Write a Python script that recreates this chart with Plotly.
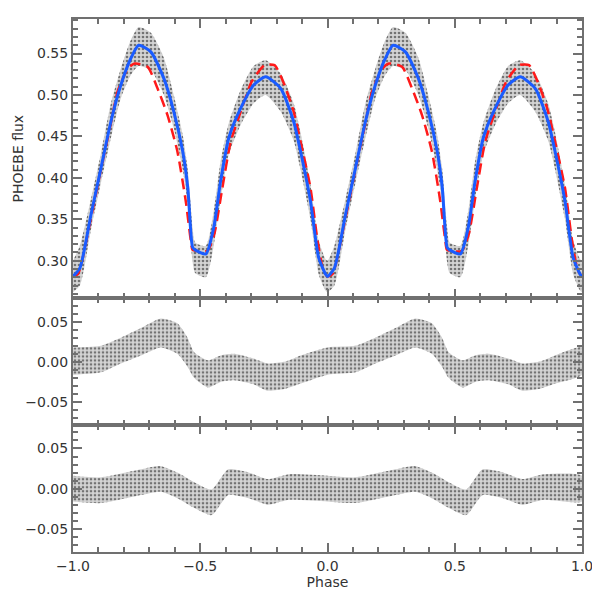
import plotly.graph_objects as go
from plotly.subplots import make_subplots

# one phase cycle (-1 .. 0), the plot shows it twice (-1..0 and 0..1)
phase = [-1.0, -0.973, -0.929, -0.890, -0.851, -0.812, -0.773, -0.742, -0.694, -0.643,
         -0.604, -0.569, -0.549, -0.530, -0.520, -0.478, -0.447, -0.420, -0.388, -0.341,
         -0.290, -0.243, -0.184, -0.133, -0.106, -0.067, -0.035, -0.008, 0.0]
blue_model = [0.281, 0.291, 0.356, 0.412, 0.468, 0.512, 0.544, 0.560, 0.552, 0.520,
              0.480, 0.432, 0.388, 0.316, 0.313, 0.308, 0.340, 0.396, 0.448, 0.484,
              0.512, 0.522, 0.508, 0.468, 0.432, 0.372, 0.304, 0.284, 0.281]
flux_hi = [0.300, 0.318, 0.375, 0.430, 0.490, 0.532, 0.566, 0.582, 0.575, 0.545,
           0.500, 0.452, 0.410, 0.340, 0.322, 0.318, 0.360, 0.420, 0.466, 0.506,
           0.535, 0.542, 0.526, 0.490, 0.455, 0.392, 0.325, 0.302, 0.300]
flux_lo = [0.262, 0.270, 0.338, 0.394, 0.448, 0.496, 0.524, 0.535, 0.530, 0.500,
           0.460, 0.410, 0.368, 0.298, 0.285, 0.280, 0.318, 0.374, 0.428, 0.464,
           0.490, 0.500, 0.480, 0.445, 0.410, 0.350, 0.284, 0.264, 0.262]

red_phase = [-1.0, -0.980, -0.929, -0.890, -0.851, -0.825, -0.784, -0.758, -0.707, -0.668,
             -0.629, -0.590, -0.557, -0.537, -0.530, -0.472, -0.445, -0.413, -0.380, -0.341,
             -0.298, -0.247, -0.208, -0.169, -0.133, -0.106, -0.067, -0.039, -0.016, 0.0]
red_model = [0.281, 0.284, 0.352, 0.410, 0.466, 0.504, 0.532, 0.538, 0.534, 0.508,
             0.476, 0.432, 0.372, 0.324, 0.313, 0.312, 0.332, 0.388, 0.444, 0.480,
             0.516, 0.536, 0.536, 0.512, 0.480, 0.444, 0.388, 0.324, 0.288, 0.281]

res_phase = [-1.0, -0.89, -0.812, -0.733, -0.655, -0.59, -0.55, -0.524, -0.47, -0.42,
             -0.367, -0.29, -0.235, -0.17, -0.105, 0.0]
res1_hi = [0.018, 0.020, 0.030, 0.042, 0.054, 0.048, 0.030, 0.012, 0.002, 0.008,
           0.010, 0.004, -0.002, 0.000, 0.008, 0.018]
res1_lo = [-0.016, -0.013, -0.002, 0.008, 0.018, 0.010, -0.006, -0.020, -0.032, -0.025,
           -0.023, -0.028, -0.036, -0.034, -0.027, -0.016]

res2_phase = [-1.0, -0.89, -0.733, -0.655, -0.59, -0.524, -0.455, -0.39, -0.31, -0.235,
              -0.15, 0.0]
res2_hi = [0.016, 0.014, 0.024, 0.028, 0.020, 0.008, -0.001, 0.024, 0.020, 0.012,
           0.018, 0.016]
res2_lo = [-0.016, -0.018, -0.008, -0.004, -0.012, -0.024, -0.033, -0.008, -0.012, -0.020,
           -0.014, -0.016]


def two_cycles(p, v):
    return p + [x + 1 for x in p[1:]], v + v[1:]


def band(p, hi, lo):
    px, ph = two_cycles(p, hi)
    _, pl = two_cycles(p, lo)
    return px + px[::-1], ph + pl[::-1]


fig = make_subplots(rows=3, cols=1, shared_xaxes=True, vertical_spacing=0,
                    row_heights=[281, 127.5, 127.5])

dots = dict(shape=".", fgcolor="#111", bgcolor="#d4d4d4", size=4, solidity=0.35)

bx, by = band(phase, flux_hi, flux_lo)
fig.add_trace(go.Scatter(x=bx, y=by, fill="toself", fillpattern=dots, mode="lines",
                         line=dict(width=0, shape="spline", smoothing=0.6),
                         hoverinfo="skip"), row=1, col=1)
rx, ry = two_cycles(red_phase, red_model)
fig.add_trace(go.Scatter(x=rx, y=ry, mode="lines",
                         line=dict(color="#ff1a1a", width=2.5, dash="11px,6px",
                                   shape="spline", smoothing=0.6)), row=1, col=1)
gx, gy = two_cycles(phase, blue_model)
fig.add_trace(go.Scatter(x=gx, y=gy, mode="lines",
                         line=dict(color="#1a5cff", width=3, shape="spline",
                                   smoothing=0.6)), row=1, col=1)

bx, by = band(res_phase, res1_hi, res1_lo)
fig.add_trace(go.Scatter(x=bx, y=by, fill="toself", fillpattern=dots, mode="lines",
                         line=dict(width=0, shape="spline", smoothing=0.6),
                         hoverinfo="skip"), row=2, col=1)
bx, by = band(res2_phase, res2_hi, res2_lo)
fig.add_trace(go.Scatter(x=bx, y=by, fill="toself", fillpattern=dots, mode="lines",
                         line=dict(width=0, shape="spline", smoothing=0.6),
                         hoverinfo="skip"), row=3, col=1)

font = dict(family="DejaVu Sans", size=14, color="#333")
axis_style = dict(showline=True, mirror="allticks", linecolor="#707070", linewidth=2,
                  ticks="inside", tickcolor="#707070", tickwidth=1.5, ticklen=9,
                  showgrid=False, zeroline=False, tickfont=font,
                  minor=dict(ticks="inside", ticklen=5, tickcolor="#707070", tickwidth=1.5))

for r in (1, 2, 3):
    fig.update_xaxes(range=[-1, 1], dtick=0.5, minor_dtick=0.1, showticklabels=(r == 3),
                     tickformat=".1f", row=r, col=1, **axis_style)
fig.update_xaxes(title=dict(text="Phase", standoff=0, font=font), row=3, col=1)
fig.update_yaxes(range=[0.2544, 0.5917], dtick=0.05, minor_dtick=0.01, tickformat=".2f",
                 title=dict(text="PHOEBE flux", standoff=10, font=font),
                 row=1, col=1, **axis_style)
for r in (2, 3):
    fig.update_yaxes(range=[-0.079, 0.079], tickvals=[-0.05, 0, 0.05],
                     ticktext=["\u22120.05", "0.00", "0.05"], minor_dtick=0.01,
                     row=r, col=1, **axis_style)

# page body adds an 8px offset, margins are reduced by that much
fig.update_layout(width=600, height=600, showlegend=False, plot_bgcolor="white",
                  paper_bgcolor="white", margin=dict(l=64, r=26, t=9, b=56))
fig.write_html("out.html")
